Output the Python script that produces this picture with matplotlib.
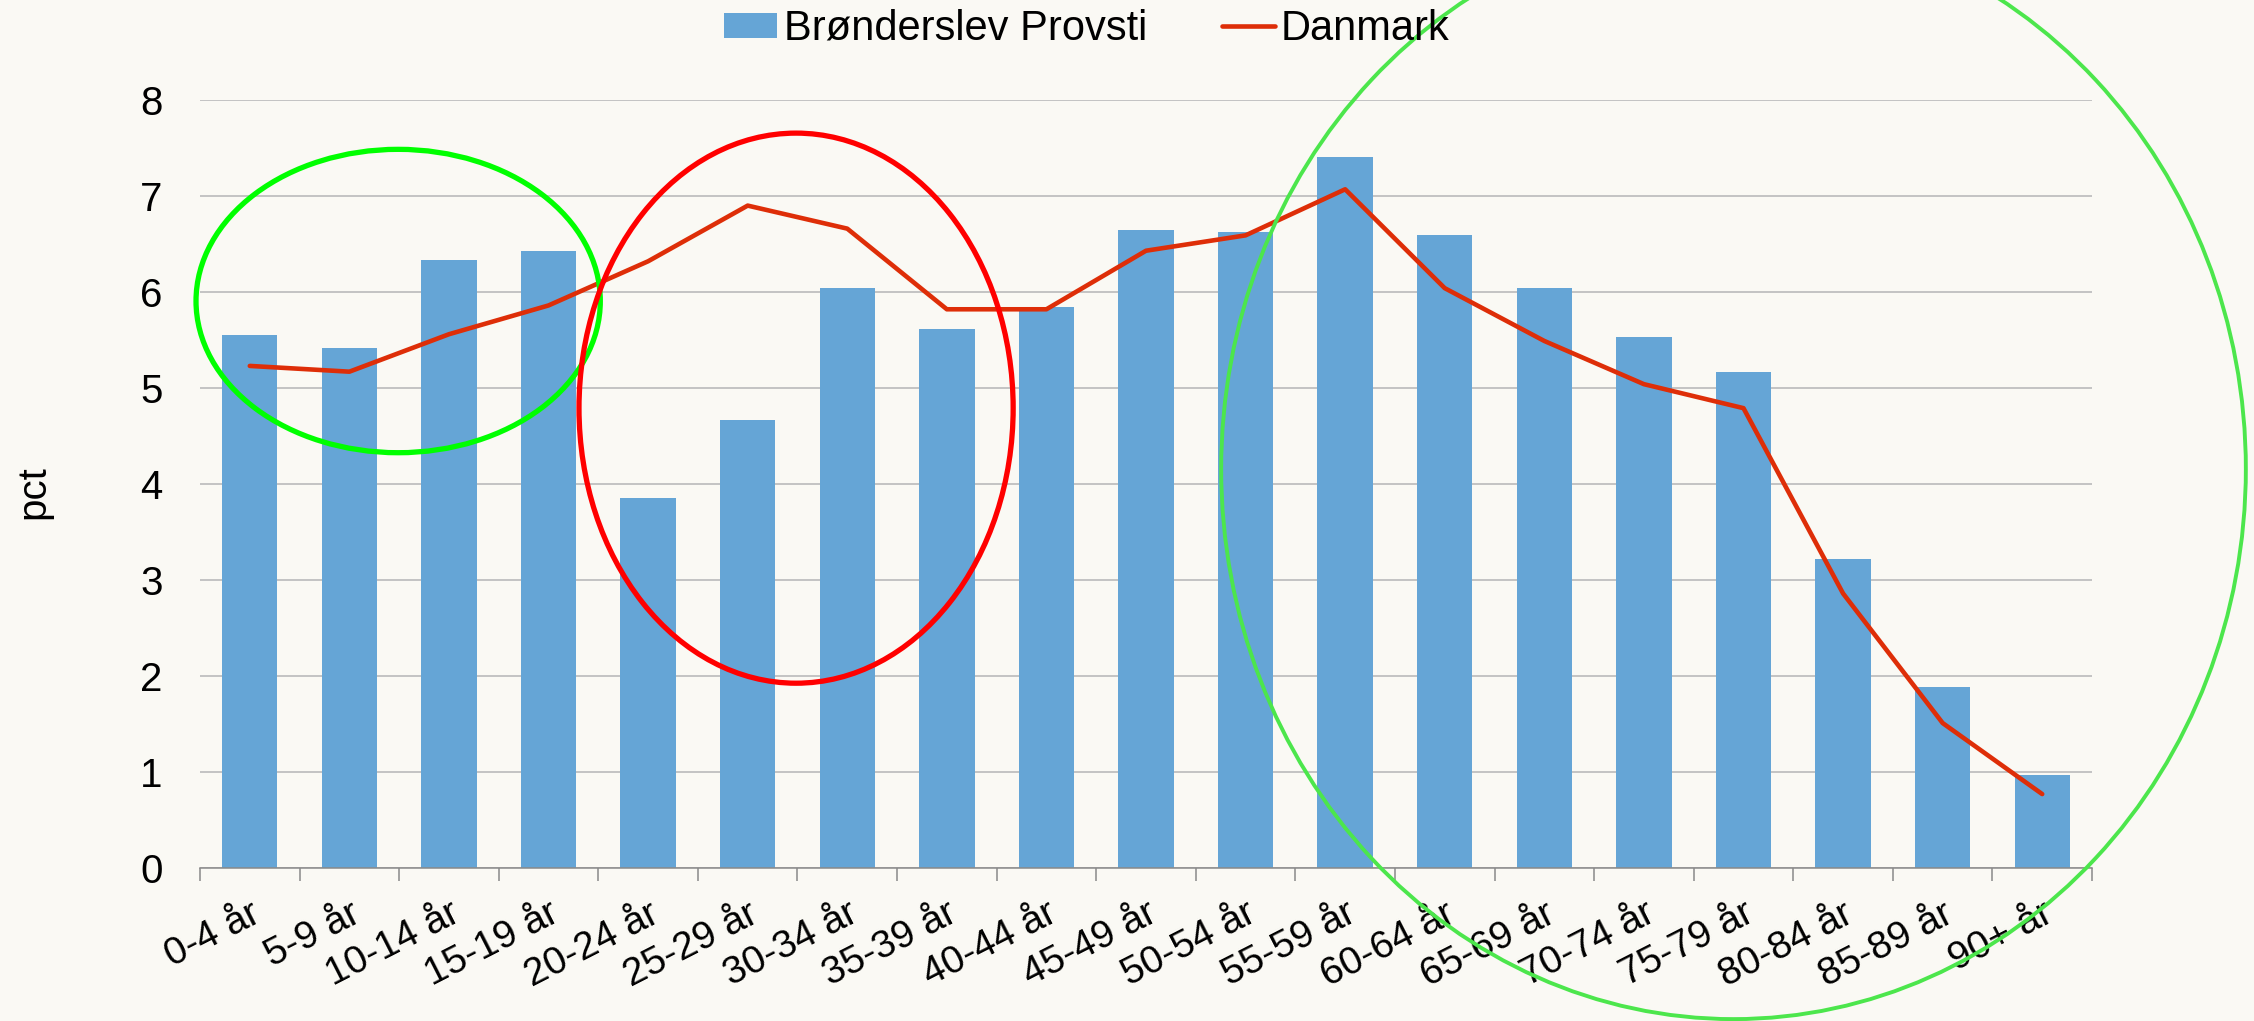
import matplotlib
matplotlib.use("Agg")
import matplotlib.pyplot as plt
import numpy as np
from matplotlib.patches import Ellipse

plt.rcParams["font.family"] = ["Liberation Sans", "DejaVu Sans"]

# data (pct)
age_groups = ["0-4 år", "5-9 år", "10-14 år", "15-19 år", "20-24 år", "25-29 år",
              "30-34 år", "35-39 år", "40-44 år", "45-49 år", "50-54 år", "55-59 år",
              "60-64 år", "65-69 år", "70-74 år", "75-79 år", "80-84 år", "85-89 år", "90+ år"]
provsti = [5.55, 5.42, 6.33, 6.43, 3.85, 4.67, 6.04, 5.61, 5.84, 6.65,
           6.63, 7.41, 6.59, 6.04, 5.53, 5.17, 3.22, 1.89, 0.97]
danmark = [5.23, 5.17, 5.56, 5.86, 6.32, 6.90, 6.66, 5.82, 5.82, 6.43,
           6.59, 7.07, 6.04, 5.49, 5.04, 4.79, 2.86, 1.51, 0.77]
y_ticks = [0, 1, 2, 3, 4, 5, 6, 7, 8]

BG = "#FAF9F4"
BAR_COLOR = "#65A5D6"
LINE_COLOR = "#DE2E08"
GRID_COLOR = "#BFBFBF"
AXIS_COLOR = "#898989"

W, H = 2254, 1021
fig = plt.figure(figsize=(W / 100, H / 100), dpi=100, facecolor=BG)
ax = fig.add_axes([200 / W, 1 - 868 / H, 1892 / W, 768 / H])
ax.set_facecolor(BG)

x = np.arange(len(age_groups))
bars = ax.bar(x, provsti, width=0.556, color=BAR_COLOR, zorder=2, label="Brønderslev Provsti")
line, = ax.plot(x, danmark, color=LINE_COLOR, lw=3.3, zorder=3, solid_joinstyle="round",
                solid_capstyle="round", label="Danmark")

ax.set_xlim(-0.5, len(age_groups) - 0.5)
ax.set_ylim(0, 8)
ax.set_yticks(y_ticks)
ax.yaxis.grid(True, color=GRID_COLOR, lw=1.3)
ax.set_axisbelow(True)
for side in ["left", "right", "top"]:
    ax.spines[side].set_visible(False)
ax.spines["bottom"].set_color(AXIS_COLOR)
ax.spines["bottom"].set_linewidth(1.1)
ax.spines["bottom"].set_zorder(4)

ax.tick_params(axis="y", length=0, pad=27, labelsize=29)
ax.set_xticks(x)
ax.set_xticklabels(age_groups, rotation=27, ha="right", va="top", rotation_mode="anchor", fontsize=28)
ax.tick_params(axis="x", which="major", length=0, pad=20)
ax.set_xticks(np.arange(-0.5, len(age_groups), 1), minor=True)
ax.tick_params(axis="x", which="minor", length=9.5, color=AXIS_COLOR, width=1.1)

fig.text(33 / W, 1 - 492 / H, "pct", rotation=90, fontsize=29, ha="center", va="center")

fig.legend(handles=[bars, line], loc="center", bbox_to_anchor=(1087 / W, 1 - 29 / H), ncol=2,
           frameon=False, fontsize=30, handlelength=1.27, handleheight=0.53,
           handletextpad=0.15, columnspacing=1.8)

# hand-drawn highlight circles (data coords, not clipped)
ax.add_patch(Ellipse((1.49, 5.906), 4.06, 3.16, fill=False, ec="#00FF00", lw=3.8, zorder=5, clip_on=False))
ax.add_patch(Ellipse((5.486, 4.79), 4.36, 5.73, fill=False, ec="#FF0000", lw=3.8, zorder=5, clip_on=False))
ax.add_patch(Ellipse((14.90, 4.156), 10.29, 11.46, fill=False, ec="#4CE64C", lw=2.8, zorder=5, clip_on=False))

fig.savefig("out.png", dpi=100, facecolor=BG)
